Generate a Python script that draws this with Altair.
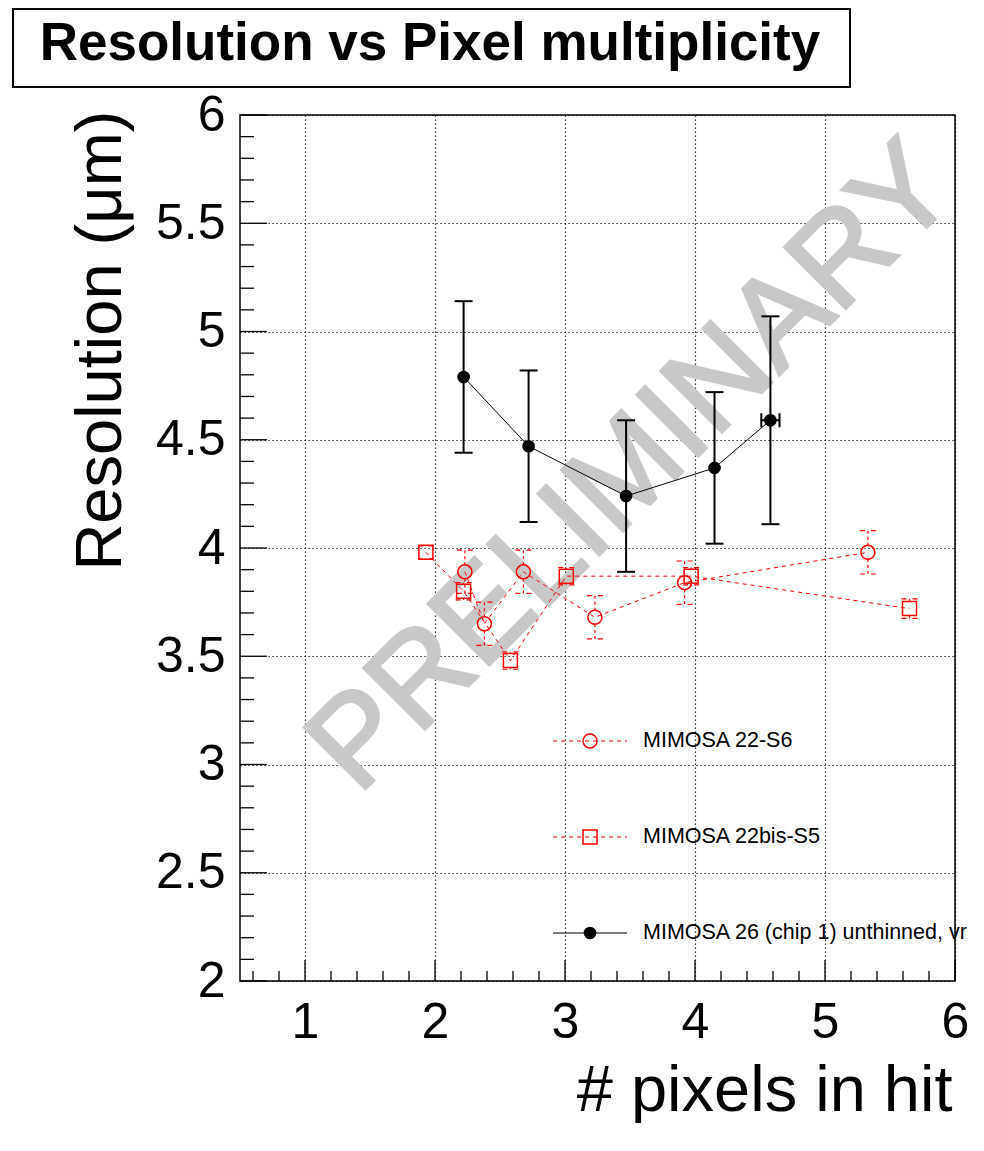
import altair as alt
import pandas as pd

# ---------------- data ----------------
m26_x = [2.22, 2.72, 3.47, 4.15, 4.58]
m26_y = [4.79, 4.47, 4.24, 4.37, 4.59]
m26_ey = [0.35, 0.35, 0.35, 0.35, 0.48]
m26_ex = [0.0, 0.0, 0.0, 0.0, 0.07]

m22_x = [2.23, 2.38, 2.68, 3.23, 3.92, 5.33]
m22_y = [3.89, 3.65, 3.89, 3.68, 3.84, 3.98]
m22_ey = [0.10, 0.10, 0.10, 0.10, 0.10, 0.10]

m22b_x = [1.93, 2.22, 2.58, 3.01, 3.97, 5.65]
m22b_y = [3.98, 3.80, 3.48, 3.87, 3.87, 3.72]
m22b_ey = [0.03, 0.04, 0.04, 0.04, 0.04, 0.045]

series_names = ["MIMOSA 22-S6", "MIMOSA 22bis-S5", "MIMOSA 26 (chip 1) unthinned, vr"]

x_major = [1, 2, 3, 4, 5, 6]
x_minor = [0.6, 0.8, 1.2, 1.4, 1.6, 1.8, 2.2, 2.4, 2.6, 2.8, 3.2, 3.4, 3.6, 3.8,
           4.2, 4.4, 4.6, 4.8, 5.2, 5.4, 5.6, 5.8]
y_major = [2, 2.5, 3, 3.5, 4, 4.5, 5, 5.5, 6]
y_minor = [2.1, 2.2, 2.3, 2.4, 2.6, 2.7, 2.8, 2.9, 3.1, 3.2, 3.3, 3.4, 3.6, 3.7, 3.8, 3.9,
           4.1, 4.2, 4.3, 4.4, 4.6, 4.7, 4.8, 4.9, 5.1, 5.2, 5.3, 5.4, 5.6, 5.7, 5.8, 5.9]

title_text = "Resolution vs Pixel multiplicity"
x_title = "# pixels in hit"
y_title = "Resolution (\u03bcm)"
watermark = pd.DataFrame({"x": [3.52], "y": [4.37], "t": ["PRELIMINARY"]})

# ---------------- tables ----------------
def table(xs, ys, ey, ex=None):
    d = pd.DataFrame({"x": xs, "y": ys, "ey": ey})
    d["ex"] = ex if ex is not None else 0.0
    d["lo"] = d["y"] - d["ey"]
    d["hi"] = d["y"] + d["ey"]
    d["xl"] = d["x"] - d["ex"]
    d["xh"] = d["x"] + d["ex"]
    d["i"] = range(len(d))
    return d

d26 = table(m26_x, m26_y, m26_ey, m26_ex)
d22 = table(m22_x, m22_y, m22_ey)
d22b = table(m22b_x, m22b_y, m22b_ey)

W, H = 715, 866
FONT = "Liberation Sans"
RED = "#ff0000"

xs = alt.Scale(domain=[0.5, 6], nice=False, zero=False)
ys = alt.Scale(domain=[2, 6], nice=False, zero=False)

GRID = dict(grid=True, gridDash=[1.2, 2.8], gridColor="black", gridWidth=1.2, gridOpacity=1,
            domain=False, ticks=False, tickSize=0, labelFontSize=50, labelFont=FONT,
            labelColor="black", labelFlush=False, labelOverlap=False,
            titleFont=FONT, titleFontWeight="normal", titleColor="black",
            titleBaseline="alphabetic", titleAlign="right")

x_axis = alt.Axis(values=x_major, title=x_title, labelPadding=16, titleFontSize=65,
                  titleX=W - 3, titleY=129, **GRID)
y_axis = alt.Axis(values=y_major, format="~g", title=y_title, labelPadding=15,
                  titleFontSize=65, titleX=-120, titleY=-5, titleAngle=270, **GRID)

def X(f):
    return alt.X(f, type="quantitative", scale=xs, axis=x_axis)

def Y(f):
    return alt.Y(f, type="quantitative", scale=ys, axis=y_axis)

layers = []

# watermark
layers.append(alt.Chart(watermark).mark_text(
    angle=315, fontSize=126, font=FONT, color="#c8c8c8", stroke="#c8c8c8", strokeWidth=3,
    align="center", baseline="middle"
).encode(x=X("x"), y=Y("y"), text="t:N"))

# inward ticks
def vt(vals):
    return pd.DataFrame({"v": vals})

layers.append(alt.Chart(vt(y_major)).mark_rule(color="black", strokeWidth=1.3).encode(
    y=Y("v"), x=alt.value(0), x2=alt.value(27)))
layers.append(alt.Chart(vt(y_minor)).mark_rule(color="black", strokeWidth=1.3).encode(
    y=Y("v"), x=alt.value(0), x2=alt.value(14)))
layers.append(alt.Chart(vt(x_major)).mark_rule(color="black", strokeWidth=1.3).encode(
    x=X("v"), y=alt.value(H), y2=alt.value(H - 21)))
layers.append(alt.Chart(vt(x_minor)).mark_rule(color="black", strokeWidth=1.3).encode(
    x=X("v"), y=alt.value(H), y2=alt.value(H - 10)))

# red series
for d, shape in ((d22, "circle"), (d22b, "square")):
    base = alt.Chart(d)
    layers.append(base.mark_line(color=RED, strokeWidth=1, strokeDash=[4, 4]).encode(
        x=X("x"), y=Y("y"), order="i:Q"))
    layers.append(base.mark_rule(color=RED, strokeWidth=1.2, strokeDash=[3, 3], y2Offset=-7).encode(
        x=X("x"), y=Y("hi"), y2=alt.Y2("y")))
    layers.append(base.mark_rule(color=RED, strokeWidth=1.2, strokeDash=[3, 3], y2Offset=7).encode(
        x=X("x"), y=Y("lo"), y2=alt.Y2("y")))
    for f in ("hi", "lo"):
        layers.append(base.mark_rule(color=RED, strokeWidth=1.2, strokeDash=[5, 6],
                                     xOffset=-8, x2Offset=8).encode(
            x=X("x"), x2=alt.X2("x"), y=Y(f)))
    layers.append(base.mark_point(shape=shape, size=196, filled=False, color=RED,
                                  strokeWidth=1.5, opacity=1).encode(x=X("x"), y=Y("y")))

# black series
b = alt.Chart(d26)
layers.append(b.mark_line(color="black", strokeWidth=1).encode(x=X("x"), y=Y("y"), order="i:Q"))
layers.append(b.mark_rule(color="black", strokeWidth=2).encode(x=X("x"), y=Y("lo"), y2=alt.Y2("hi")))
for f in ("hi", "lo"):
    layers.append(b.mark_rule(color="black", strokeWidth=2, xOffset=-9, x2Offset=9).encode(
        x=X("x"), x2=alt.X2("x"), y=Y(f)))
bx = b.transform_filter("datum.ex > 0")
layers.append(bx.mark_rule(color="black", strokeWidth=2).encode(x=X("xl"), x2=alt.X2("xh"), y=Y("y")))
for f in ("xl", "xh"):
    layers.append(bx.mark_rule(color="black", strokeWidth=2, yOffset=-7, y2Offset=7).encode(
        x=X(f), y=Y("y"), y2=alt.Y2("y")))
layers.append(b.mark_point(shape="circle", size=160, filled=True, color="black", opacity=1).encode(
    x=X("x"), y=Y("y")))

# legend (drawn inside the frame, as in the original)
leg = pd.DataFrame({"label": series_names, "py": [626, 722, 818], "k": [0, 1, 2]})
lg = alt.Chart(leg)
LY = alt.Y("py:Q", scale=None)
layers.append(lg.transform_filter("datum.k < 2").mark_rule(color=RED, strokeWidth=1, strokeDash=[4, 4]).encode(
    x=alt.value(313), x2=alt.value(387), y=LY))
layers.append(lg.transform_filter("datum.k == 2").mark_rule(color="black", strokeWidth=1).encode(
    x=alt.value(313), x2=alt.value(387), y=LY))
layers.append(lg.transform_filter("datum.k == 0").mark_point(shape="circle", size=196, filled=False,
    color=RED, strokeWidth=1.5, opacity=1).encode(x=alt.value(350), y=LY))
layers.append(lg.transform_filter("datum.k == 1").mark_point(shape="square", size=196, filled=False,
    color=RED, strokeWidth=1.5, opacity=1).encode(x=alt.value(350), y=LY))
layers.append(lg.transform_filter("datum.k == 2").mark_point(shape="circle", size=160, filled=True,
    color="black", opacity=1).encode(x=alt.value(350), y=LY))
layers.append(lg.mark_text(font=FONT, fontSize=21.5, color="black", align="left", baseline="middle").encode(
    x=alt.value(403), y=LY, text="label:N"))

# title box
one = pd.DataFrame({"t": [title_text]})
layers.append(alt.Chart(one).mark_rect(fill="white", stroke="black", strokeWidth=2).encode(
    x=alt.value(-227), x2=alt.value(610), y=alt.value(-106), y2=alt.value(-28)))
layers.append(alt.Chart(one).mark_text(font=FONT, fontSize=53, fontWeight="bold", color="black",
                                       align="center", baseline="alphabetic").encode(
    x=alt.value(190), y=alt.value(-55), text="t:N"))

chart = alt.layer(*layers).properties(
    width=W, height=H,
    autosize=alt.AutoSizeParams(type="none"),
    padding={"left": 232, "top": 107, "right": 21, "bottom": 142},
    background="white",
).configure_view(stroke="black", strokeWidth=1.5).configure_text(font=FONT)

chart.save("out.html", embed_options={"renderer": "svg", "actions": False})
